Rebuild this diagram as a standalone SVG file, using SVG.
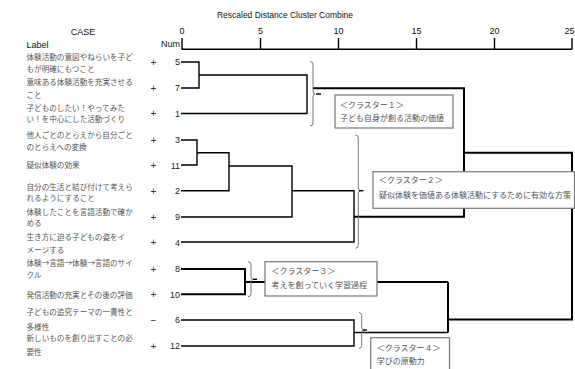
<svg xmlns="http://www.w3.org/2000/svg" width="575" height="369" viewBox="0 0 575 369">
<style>
.lbl{font-family:"Noto Sans CJK JP","Noto Sans",sans-serif;font-size:7.6px;fill:#555}
.num{font-family:"Liberation Sans",Arial,sans-serif;font-size:9px;fill:#222;text-anchor:end}
.sgn{font-family:"Liberation Sans",Arial,sans-serif;font-size:10px;fill:#333;text-anchor:middle}
.hdr{font-family:"Liberation Sans",Arial,sans-serif;font-size:9px;fill:#111}
.tree{fill:none;stroke:#000;stroke-width:1.4}
.bold{fill:none;stroke:#000;stroke-width:2}
.brk{fill:none;stroke:#777;stroke-width:1}
.box rect{fill:#fff;stroke:#777;stroke-width:1.2}
.box text{font-family:"Noto Sans CJK JP","Noto Sans",sans-serif;font-size:8px;fill:#555}
</style>
<rect width="575" height="369" fill="#fff"/>
<g id="axis">
<text class="hdr" x="285" y="18" text-anchor="middle" textLength="136" lengthAdjust="spacingAndGlyphs">Rescaled Distance Cluster Combine</text>
<text class="hdr" x="182" y="34" text-anchor="middle">0</text>
<text class="hdr" x="260.5" y="34" text-anchor="middle">5</text>
<text class="hdr" x="338.5" y="34" text-anchor="middle">10</text>
<text class="hdr" x="416.5" y="34" text-anchor="middle">15</text>
<text class="hdr" x="494.5" y="34" text-anchor="middle">20</text>
<text class="hdr" x="574.5" y="34" text-anchor="end">25</text>
<text class="hdr" x="180" y="47" text-anchor="end">Num</text>
<path class="tree" d="M182,38V49.3H572M260.5,38V49.3M338.5,38V49.3M416.5,38V49.3M494.5,38V49.3M572,38V49.3"/>
<text class="hdr" x="83" y="35" text-anchor="middle" font-size="10">CASE</text>
<text class="hdr" x="26.5" y="48">Label</text>
</g>
<g id="labels">
<text class="lbl" x="26.5" y="59.7">体験活動の意図やねらいを子ど</text>
<text class="lbl" x="26.5" y="72">もが明確にもつこと</text>
<text class="lbl" x="26.5" y="84.7">意味ある体験活動を充実させる</text>
<text class="lbl" x="26.5" y="98">こと</text>
<text class="lbl" x="26.5" y="111.3">子どものしたい！やってみた</text>
<text class="lbl" x="26.5" y="122.3">い！を中心にした活動づくり</text>
<text class="lbl" x="26.5" y="138">他人ごとのとらえから自分ごと</text>
<text class="lbl" x="26.5" y="149.7">のとらえへの変換</text>
<text class="lbl" x="26.5" y="168">疑似体験の効果</text>
<text class="lbl" x="26.5" y="189.5">自分の生活と結び付けて考えら</text>
<text class="lbl" x="26.5" y="201.3">れるようにすること</text>
<text class="lbl" x="26.5" y="214.7">体験したことを言語活動で確か</text>
<text class="lbl" x="26.5" y="226.3">める</text>
<text class="lbl" x="26.5" y="239.7">生き方に迫る子どもの姿をイ</text>
<text class="lbl" x="26.5" y="253">メージする</text>
<text class="lbl" x="26.5" y="266.3">体験→言語→体験→言語のサイ</text>
<text class="lbl" x="26.5" y="278">クル</text>
<text class="lbl" x="26.5" y="298">発信活動の充実とその後の評価</text>
<text class="lbl" x="26.5" y="314.7">子どもの追究テーマの一貫性と</text>
<text class="lbl" x="26.5" y="329.7">多様性</text>
<text class="lbl" x="26.5" y="341.3">新しいものを創り出すことの必</text>
<text class="lbl" x="26.5" y="354.7">要性</text>
</g>
<g id="signs">
<text class="sgn" x="153.5" y="65.5">+</text>
<text class="sgn" x="153.5" y="91.5">+</text>
<text class="sgn" x="153.5" y="117">+</text>
<text class="sgn" x="153.5" y="143.5">+</text>
<text class="sgn" x="153.5" y="169">+</text>
<text class="sgn" x="153.5" y="194.5">+</text>
<text class="sgn" x="153.5" y="220.5">+</text>
<text class="sgn" x="153.5" y="246">+</text>
<text class="sgn" x="153.5" y="272.5">+</text>
<text class="sgn" x="153.5" y="298">+</text>
<text class="sgn" x="153.5" y="323.5">−</text>
<text class="sgn" x="153.5" y="349.5">+</text>
</g>
<g id="nums">
<text class="num" x="180" y="65">5</text>
<text class="num" x="180" y="91">7</text>
<text class="num" x="180" y="116.5">1</text>
<text class="num" x="180" y="143">3</text>
<text class="num" x="180" y="168.5">11</text>
<text class="num" x="180" y="194">2</text>
<text class="num" x="180" y="220">9</text>
<text class="num" x="180" y="245.5">4</text>
<text class="num" x="180" y="272">8</text>
<text class="num" x="180" y="297.5">10</text>
<text class="num" x="180" y="323">6</text>
<text class="num" x="180" y="349">12</text>
</g>
<g id="connectors">
<path class="tree" d="M181,62H199V88H181M199,75H307V113.5H181"/>
<path class="tree" d="M181,140H197V165H181M197,152.7H229V190.7H181M229,166H292V217H181M292,190.7H354V242H181"/>
<path class="bold" d="M181,269H245V294.3H181M245,282H448"/>
<path class="tree" d="M181,320H354V346H181M354,332.5H448"/>
<path class="bold" d="M313,88.3H464V216.7H354M464,152.7H572V319.5H448M448,282V332.5"/>
</g>
<g id="brackets">
<path class="brk" d="M310,61.5Q313,61.5 313,64.5V91Q313,94 315,94Q313,94 313,97V123Q313,126 310,126"/>
<path class="tree" d="M316,94H321" stroke-width="1"/>
<path class="brk" d="M355.5,135Q358.3,135 358.3,138V187.7Q358.3,190.7 360.3,190.7Q358.3,190.7 358.3,193.7V245.3Q358.3,248.3 355.5,248.3"/>
<path class="tree" d="M359,190.7H363.5" stroke-width="1"/>
<path class="brk" d="M248,261.7Q251,261.7 251,264.7V276.3Q251,279.3 253,279.3Q251,279.3 251,282.3V293.7Q251,296.7 248,296.7"/>
<path class="tree" d="M253,279.3H257" stroke-width="1"/>
<path class="brk" d="M359,312.7Q361.7,312.7 361.7,315.7V327Q361.7,330 363.5,330Q361.7,330 361.7,333V345.3Q361.7,348.3 359,348.3"/>
<path class="tree" d="M363,330H367" stroke-width="1"/>
</g>
<g id="cluster1" class="box">
<rect x="335" y="95" width="118" height="33"/>
<text x="340" y="108">＜クラスター１＞</text>
<text x="340" y="120.5">子ども自身が創る活動の価値</text>
</g>
<g id="cluster2" class="box">
<rect x="373" y="171.7" width="201.5" height="36.6"/>
<text x="379" y="183">＜クラスター２＞</text>
<text x="379" y="198">疑似体験を価値ある体験活動にするために有効な方策</text>
</g>
<g id="cluster3" class="box">
<rect x="265" y="261.7" width="112" height="34.3"/>
<text x="271.5" y="273.7">＜クラスター３＞</text>
<text x="271.5" y="288">考えを創っていく学習過程</text>
</g>
<g id="cluster4" class="box">
<rect x="370.7" y="337.7" width="78.8" height="40"/>
<text x="376.7" y="350.7">＜クラスター４＞</text>
<text x="376.7" y="363.7">学びの原動力</text>
</g>
</svg>
